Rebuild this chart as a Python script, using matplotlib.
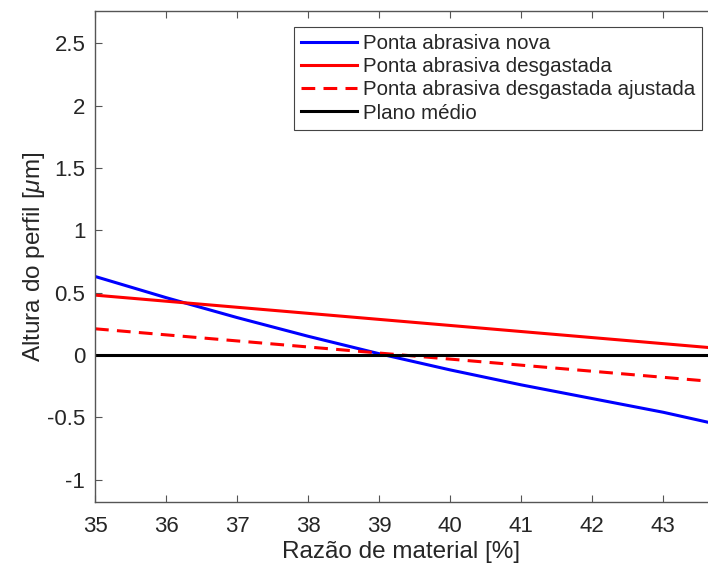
import numpy as np
import matplotlib
matplotlib.use("Agg")
from matplotlib import pyplot as plt

plt.rcParams['font.family'] = ['Liberation Sans', 'DejaVu Sans']
plt.rcParams['mathtext.fontset'] = 'custom'
plt.rcParams['mathtext.it'] = 'Liberation Sans:italic'
plt.rcParams['mathtext.rm'] = 'Liberation Sans'

# values
x_nova = [35, 36, 37, 38, 39, 40, 41, 42, 43, 43.63]
y_nova = [0.63, 0.46, 0.30, 0.15, 0.01, -0.12, -0.24, -0.35, -0.46, -0.54]

x_desg = [35, 43.63]
y_desg = [0.48, 0.06]

x_ajust = [35, 43.63]
y_ajust = [0.21, -0.21]

x_plano = [35, 43.63]
y_plano = [0, 0]

labels = ['Ponta abrasiva nova', 'Ponta abrasiva desgastada',
          'Ponta abrasiva desgastada ajustada', 'Plano médio']
xticks = [35, 36, 37, 38, 39, 40, 41, 42, 43]
yticks = [-1, -0.5, 0, 0.5, 1, 1.5, 2, 2.5]

fig = plt.figure(figsize=(7.08, 5.71), dpi=100)
ax = fig.add_axes([95/708., 1-502/571., (708-95)/708., (502-11)/571.])

lw = 2.2
ax.plot(x_nova, y_nova, color='#0000ff', lw=lw, label=labels[0])
ax.plot(x_desg, y_desg, color='#ff0000', lw=lw, label=labels[1])
ax.plot(x_ajust, y_ajust, color='#ff0000', lw=lw, ls=(0, (4.5, 2.7)), label=labels[2])
ax.plot(x_plano, y_plano, color='black', lw=lw, label=labels[3])

ax.set_xlim(35, 43.63)
ax.set_ylim(-1.18, 2.76)
ax.set_xticks(xticks)
ax.set_yticks(yticks)
ax.set_yticklabels([('%g' % v) for v in yticks])

grey = '#262626'
for s in ['left', 'bottom', 'top']:
    ax.spines[s].set_color('#555555')
    ax.spines[s].set_linewidth(1.0)
ax.spines['right'].set_visible(False)
ax.tick_params(direction='in', top=True, right=False, length=5, width=0.8,
               color='#555555', labelsize=16, labelcolor=grey, pad=7)
ax.tick_params(axis='x', pad=10)

ax.set_xlabel('Razão de material [%]', fontsize=17.5, color=grey, labelpad=3)
ax.set_ylabel('Altura do perfil [$\\mu$m]', fontsize=17.5, color=grey, labelpad=0)

leg = ax.legend(loc='upper left', bbox_to_anchor=(294/708., 1-27/571.),
                bbox_transform=fig.transFigure, borderaxespad=0,
                fontsize=14.8, fancybox=False, edgecolor='#444444',
                handlelength=2.7, handletextpad=0.3, labelspacing=0.2,
                borderpad=0.35, framealpha=1)
leg.get_frame().set_linewidth(0.8)
for t in leg.get_texts():
    t.set_color(grey)

fig.savefig('out.png', dpi=100)
